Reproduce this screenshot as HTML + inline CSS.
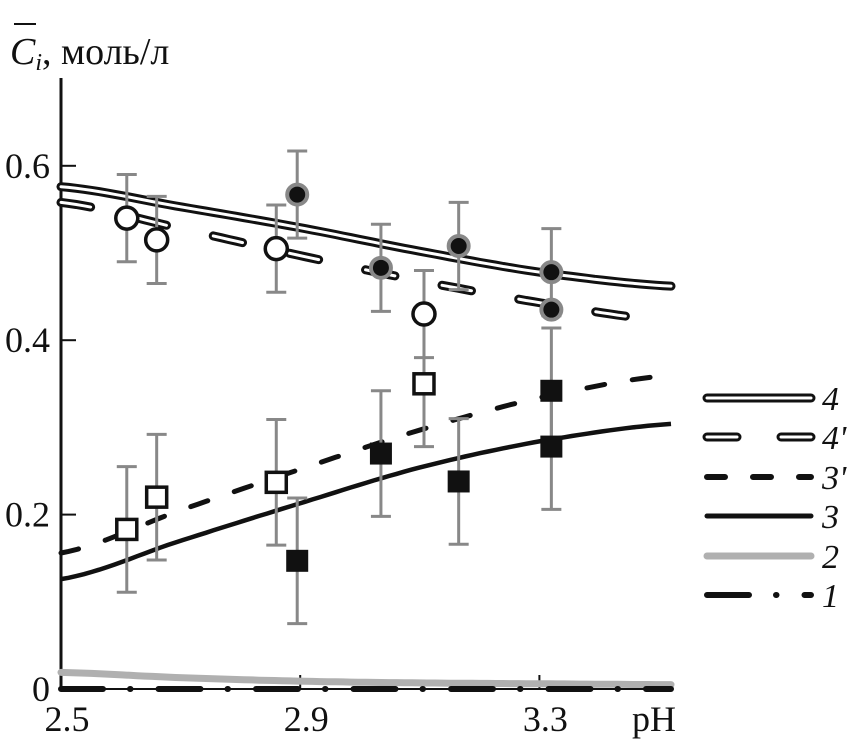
<!DOCTYPE html>
<html><head><meta charset="utf-8"><style>
body{margin:0;background:#fff}
svg text{font-family:"Liberation Serif",serif;fill:#111}
</style></head><body>
<svg id="chart" width="859" height="746" xmlns="http://www.w3.org/2000/svg">
<g id="g"></g>
</svg>
<script>
const phGrid=[2.5,2.7,2.9,3.1,3.3,3.52];
const curve4=[0.576,0.553,0.529,0.502,0.478,0.462];
const curve4p=[0.558,0.528,0.497,0.468,0.443,0.422];
const curve3p=[0.156,0.205,0.252,0.297,0.334,0.36];
const curve3=[0.126,0.17,0.213,0.254,0.284,0.304];
const curve2=[0.019,0.013,0.009,0.007,0.006,0.005];
const curve1=[0,0,0,0,0,0];
const openCircPH=[2.61,2.66,2.86,3.107];
const openCircV=[0.54,0.515,0.505,0.43];
const fillCircPH=[2.895,3.035,3.165,3.32,3.32];
const fillCircV=[0.567,0.483,0.508,0.478,0.435];
const fillCircErr=[0.05,0.05,0.05,0.05,0];
const openSqPH=[2.61,2.66,2.86,3.107];
const openSqV=[0.183,0.22,0.237,0.35];
const fillSqPH=[2.895,3.035,3.165,3.32,3.32];
const fillSqV=[0.147,0.27,0.238,0.342,0.278];
const xTicks=[2.5,2.9,3.3];
const yTicks=[0,0.2,0.4,0.6];
const yTickLabels=["0","0.2","0.4","0.6"];

const X=p=>61+(p-2.5)*598, Y=v=>689-v*872;
const g=document.getElementById('g');
const NS='http://www.w3.org/2000/svg';
function el(t,a){const e=document.createElementNS(NS,t);for(const k in a)e.setAttribute(k,a[k]);g.appendChild(e);return e;}
function path(xs,ys){let d='';const n=80;for(let i=0;i<=n;i++){const p=xs[0]+(xs[xs.length-1]-xs[0])*i/n;let j=0;while(j<xs.length-2&&p>xs[j+1])j++;
const p0=ys[Math.max(j-1,0)],p1=ys[j],p2=ys[j+1],p3=ys[Math.min(j+2,ys.length-1)];const t=(p-xs[j])/(xs[j+1]-xs[j]);
const v=0.5*((2*p1)+(-p0+p2)*t+(2*p0-5*p1+4*p2-p3)*t*t+(-p0+3*p1-3*p2+p3)*t*t*t);
d+=(i?'L':'M')+X(p).toFixed(1)+','+Y(v).toFixed(1);}return d;}

// axes
let a=el('line',{x1:61,y1:78,x2:61,y2:690,stroke:'#111','stroke-width':3});

a=el('line',{x1:59,y1:689,x2:670,y2:689,stroke:'#111','stroke-width':2});

yTicks.forEach((v,i)=>{const l=el('line',{x1:61,y1:Y(v),x2:76,y2:Y(v),stroke:'#111','stroke-width':2});

const t=el('text',{x:50,y:Y(v)+12,'font-size':36,'text-anchor':'end'});t.textContent=yTickLabels[i];
});
xTicks.forEach(v=>{const l=el('line',{x1:X(v),y1:675,x2:X(v),y2:689,stroke:'#111','stroke-width':2});

const t=el('text',{x:X(v)+6,y:731,'font-size':36,'text-anchor':'middle'});t.textContent=v.toFixed(1);
});
let t=el('text',{x:632,y:731,'font-size':36});t.textContent='pH';

t=el('text',{x:10,y:64,'font-size':38});t.innerHTML='<tspan font-style="italic">C</tspan><tspan font-style="italic" font-size="24" dy="6">i</tspan><tspan dy="-6">, моль/л</tspan>';

a=el('line',{x1:14,y1:24,x2:36,y2:24,stroke:'#111','stroke-width':2});


// curves
function dbl(d,name,dash){const o=el('path',{d,fill:'none',stroke:'#111','stroke-width':9,'stroke-linecap':'round','stroke-dasharray':dash||'none'});

el('path',{d,fill:'none',stroke:'#fff','stroke-width':3,'stroke-linecap':'round','stroke-dasharray':dash||'none'});}
let c=el('path',{d:path(phGrid,curve2),fill:'none',stroke:'#b0b0b0','stroke-width':7,'stroke-linecap':'round'});

c=el('path',{d:path(phGrid,curve1),fill:'none',stroke:'#111','stroke-width':6,'stroke-linecap':'round','stroke-dasharray':'42 27 0.5 28'});

dbl(path(phGrid,curve4p),'curve-4-prime','30 48');
dbl(path(phGrid,curve4),'curve-4');
c=el('path',{d:path(phGrid,curve3p),fill:'none',stroke:'#111','stroke-width':5,'stroke-linecap':'round','stroke-dasharray':'18 28'});

c=el('path',{d:path(phGrid,curve3),fill:'none',stroke:'#111','stroke-width':4.5});


function err(p,v,e){if(!e)return;const x=X(p);const l=el('path',{d:`M${x},${Y(v+e)}V${Y(v-e)}M${x-10},${Y(v+e)}H${x+10}M${x-10},${Y(v-e)}H${x+10}`,stroke:'#888','stroke-width':3,fill:'none'});
}
openSqPH.forEach((p,i)=>err(p,openSqV[i],0.072));
fillSqPH.forEach((p,i)=>err(p,fillSqV[i],0.072));
openCircPH.forEach((p,i)=>err(p,openCircV[i],0.05));
fillCircPH.forEach((p,i)=>err(p,fillCircV[i],fillCircErr[i]));
openSqPH.forEach((p,i)=>{const m=el('rect',{x:X(p)-10,y:Y(openSqV[i])-10,width:20,height:20,fill:'#fff',stroke:'#111','stroke-width':3.5});
});
fillSqPH.forEach((p,i)=>{const m=el('rect',{x:X(p)-11,y:Y(fillSqV[i])-11,width:22,height:22,fill:'#111'});
});
openCircPH.forEach((p,i)=>{const m=el('circle',{cx:X(p),cy:Y(openCircV[i]),r:11,fill:'#fff',stroke:'#111','stroke-width':3.5});
});
fillCircPH.forEach((p,i)=>{const m=el('circle',{cx:X(p),cy:Y(fillCircV[i]),r:10,fill:'#111',stroke:'#888','stroke-width':4});
});

// legend
const legY=[398,437,477,516,556,595];
const legL=['4',"4'","3'",'3','2','1'];
legY.forEach((y,i)=>{const d=`M707,${y}H811`;
if(i===0)dbl(d,'legend-line-4');
else if(i===1)dbl(d,'legend-line-4-prime','30 44');
else if(i===2){const m=el('path',{d,stroke:'#111','stroke-width':6,'stroke-linecap':'round','stroke-dasharray':'18 28',fill:'none'});}
else if(i===3){const m=el('path',{d,stroke:'#111','stroke-width':5,'stroke-linecap':'round',fill:'none'});}
else if(i===4){const m=el('path',{d,stroke:'#b0b0b0','stroke-width':7,'stroke-linecap':'round',fill:'none'});}
else{const m=el('path',{d,stroke:'#111','stroke-width':6,'stroke-linecap':'round','stroke-dasharray':'42 27 0.5 28',fill:'none'});}
const tx=el('text',{x:822,y:y+12,'font-size':34,'font-style':'italic'});tx.textContent=legL[i];
});
</script>
</body></html>
